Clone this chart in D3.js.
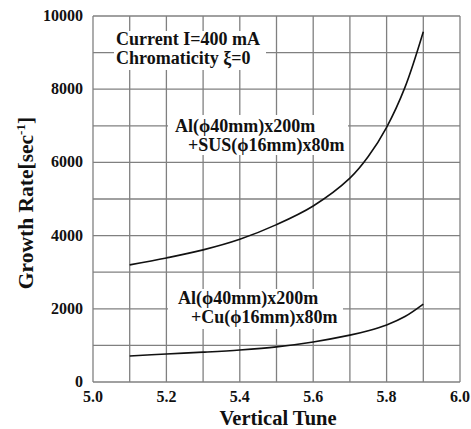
<!DOCTYPE html>
<html>
<head>
<meta charset="utf-8">
<title>Growth Rate vs Vertical Tune</title>
<style>
  body { margin: 0; background: #fff; }
</style>
</head>
<body>
<svg width="471" height="429" font-family="'Liberation Serif', 'DejaVu Serif', serif" font-weight="bold"></svg>
<script src="https://d3js.org/d3.v7.min.js"></script>
<script>
// data
const tune = [5.1, 5.2, 5.3, 5.4, 5.5, 5.6, 5.7, 5.75, 5.8, 5.85, 5.9];
const susRate = [3200, 3390, 3610, 3900, 4300, 4810, 5570, 6160, 6960, 8050, 9570];
const cuRate  = [710, 765, 815, 875, 960, 1095, 1280, 1400, 1560, 1790, 2130];
const xTicks = [5.0, 5.2, 5.4, 5.6, 5.8, 6.0];
const yTicks = [0, 2000, 4000, 6000, 8000, 10000];
const xGrid = d3.range(0, 11).map(i => 5 + i / 10);
const yGrid = d3.range(0, 11).map(i => i * 1000);
const condLines = ["Current I=400 mA", "Chromaticity \u03BE=0"];
const susLines = ["Al(\u03D540mm)x200m", "+SUS(\u03D516mm)x80m"];
const cuLines = ["Al(\u03D540mm)x200m", "+Cu(\u03D516mm)x80m"];

const margin = {top: 16, right: 11, bottom: 47, left: 93};
const W = 471, H = 429;
const svg = d3.select('svg');

var x = d3.scaleLinear().domain([5.0, 6.0]).range([margin.left, W - margin.right]);
var y = d3.scaleLinear().domain([0, 10000]).range([H - margin.bottom, margin.top]);

const gridColor = '#808080';

// grid
svg.append('g').selectAll('line').data(xGrid).enter().append('line')
  .attr('x1', d => x(d)).attr('x2', d => x(d))
  .attr('y1', y(0)).attr('y2', y(10000))
  .attr('stroke', gridColor).attr('stroke-width', 1.3);
svg.append('g').selectAll('line').data(yGrid).enter().append('line')
  .attr('x1', x(5)).attr('x2', x(6))
  .attr('y1', d => y(d)).attr('y2', d => y(d))
  .attr('stroke', gridColor).attr('stroke-width', 1.3);

// tick labels
svg.append('g').selectAll('text').data(yTicks).enter().append('text')
  .attr('x', margin.left - 10).attr('y', d => y(d) + 5)
  .attr('text-anchor', 'end').attr('font-size', 16).attr('fill', '#111')
  .text(d => d);
svg.append('g').selectAll('text').data(xTicks).enter().append('text')
  .attr('x', d => x(d)).attr('y', y(0) + 20)
  .attr('text-anchor', 'middle').attr('font-size', 16).attr('fill', '#111')
  .text(d => d.toFixed(1));

// axis titles
svg.append('text')
  .attr('x', 278).attr('y', 424.5)
  .attr('text-anchor', 'middle').attr('font-size', 20.5).attr('fill', '#111')
  .text('Vertical Tune');
const yl = svg.append('text')
  .attr('transform', 'translate(33,203)rotate(-90)')
  .attr('text-anchor', 'middle').attr('font-size', 21.5).attr('fill', '#111');
yl.append('tspan').text('Growth Rate[sec');
yl.append('tspan').attr('font-size', 13).attr('dy', -8).text('-1');
yl.append('tspan').attr('dy', 8).text(']');

// curves
const line = d3.line().x((d, i) => x(tune[i])).y(d => y(d)).curve(d3.curveCatmullRom);
[susRate, cuRate].forEach(s => {
  svg.append('path').datum(s).attr('d', line)
    .attr('fill', 'none').attr('stroke', '#111').attr('stroke-width', 1.6);
});

// annotations with white boxes
function label(lines, box, pos) {
  svg.append('rect')
    .attr('x', box[0]).attr('y', box[1]).attr('width', box[2]).attr('height', box[3])
    .attr('fill', '#fff');
  lines.forEach((t, i) => {
    svg.append('text').attr('x', pos[i][0]).attr('y', pos[i][1])
      .attr('font-size', 18).attr('fill', '#111').text(t);
  });
}
label(condLines, [114, 31, 152, 39], [[116, 44.5], [116, 63.5]]);
label(susLines, [168, 115, 180, 40], [[175, 132], [188, 151]]);
label(cuLines, [168, 289, 175, 40], [[178, 304], [191, 323]]);
</script>
</body>
</html>
